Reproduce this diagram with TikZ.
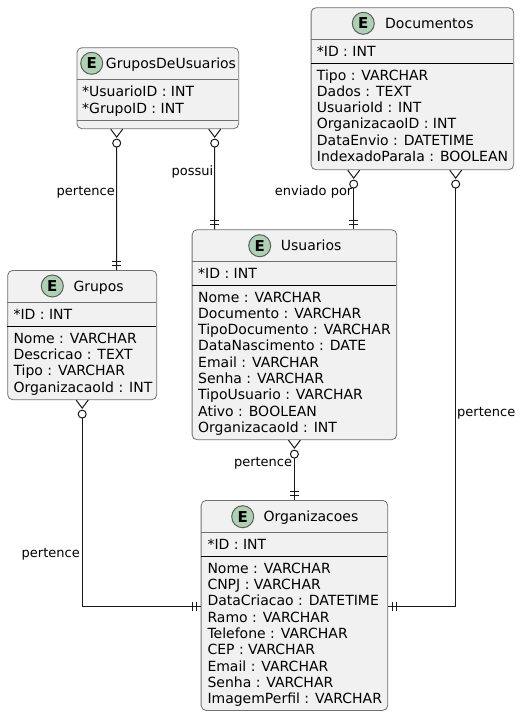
\documentclass[tikz,border=0pt]{standalone}
\usepackage{fontspec}
\setmainfont{DejaVu Sans}
\usetikzlibrary{decorations.markings}
\definecolor{boxfill}{HTML}{F1F1F1}
\definecolor{boxline}{HTML}{707070}
\definecolor{linkline}{HTML}{181818}
\definecolor{spotfill}{HTML}{ADD1B2}
\tikzset{
  entity/.style={rectangle, draw=boxline, line width=.8pt, fill=boxfill, rounded corners=5pt, anchor=north west, inner sep=0pt},
  spot/.style={circle, draw=linkline!70, line width=1pt, fill=spotfill, minimum size=22pt, inner sep=0pt, font=\fontsize{15}{15}\selectfont\bfseries},
  title/.style={anchor=base west, inner sep=0pt, font=\fontsize{14}{16}\selectfont},
  row/.style={anchor=base west, inner sep=0pt, font=\fontsize{14}{16}\selectfont},
  linklabel/.style={inner sep=0pt, font=\fontsize{13}{15}\selectfont},
  headline/.style={draw=boxline, line width=.8pt},
  idline/.style={draw=black, line width=1pt},
  link/.style={draw=linkline, line width=1pt, shorten <=18pt, postaction={decorate, decoration={markings,
    mark=at position 0pt with {\draw[shorten <=0pt, solid] (0,-6) -- (8,0) -- (0,6); \draw[shorten <=0pt, fill=white] (14,0) circle (4pt);},
    mark=at position -4.5pt with {\draw[shorten <=0pt] (0,-4.5) -- (0,4.5);},
    mark=at position -8.5pt with {\draw[shorten <=0pt] (0,-4.5) -- (0,4.5);}}}}
}
\begin{document}
\begin{tikzpicture}[x=1pt, y=-1pt]
    \useasboundingbox (0,0) rectangle (521,716);

    % GruposDeUsuarios
    \node at (76.5, 47.3) (gu) [entity, minimum width=161.8pt, minimum height=81pt] {};
    \node at (91.7, 63.3) (guspot) [spot] {E};
    \node at (105.7, 68.3) (gutitle) [title] {GruposDeUsuarios};
    \draw[headline] (76.5, 79.3) -- (238.3, 79.3);
    \node at (82, 96) (gu1) [row] {*UsuarioID : INT};
    \node at (82, 113) (gu2) [row] {*GrupoID : INT};
    \draw[headline] (76.5, 120.3) -- (238.3, 120.3);

    % Documentos
    \node at (310.7, 7.3) (doc) [entity, minimum width=202.6pt, minimum height=162pt] {};
    \node at (363.3, 23.3) (docspot) [spot] {E};
    \node at (385, 28.3) (doctitle) [title] {Documentos};
    \draw[headline] (310.7, 39.3) -- (513.3, 39.3);
    \node at (316.7, 56) (doc0) [row] {*ID : INT};
    \draw[idline] (310.7, 63.3) -- (513.3, 63.3);
    \node at (316.7, 80) (doc1) [row] {Tipo : VARCHAR};
    \node at (316.7, 96.3) (doc2) [row] {Dados : TEXT};
    \node at (316.7, 112.6) (doc3) [row] {UsuarioId : INT};
    \node at (316.7, 128.9) (doc4) [row] {OrganizacaoID : INT};
    \node at (316.7, 145.2) (doc5) [row] {DataEnvio : DATETIME};
    \node at (316.7, 161.5) (doc6) [row] {IndexadoParaIa : BOOLEAN};

    % Usuarios
    \node at (191.7, 229.3) (usr) [entity, minimum width=204.6pt, minimum height=210pt] {};
    \node at (259.7, 245.7) (usrspot) [spot] {E};
    \node at (280.7, 250.7) (usrtitle) [title] {Usuarios};
    \draw[headline] (191.7, 261) -- (396.3, 261);
    \node at (198, 278.3) (usr0) [row] {*ID : INT};
    \draw[idline] (191.7, 285) -- (396.3, 285);
    \node at (198, 302) (usr1) [row] {Nome : VARCHAR};
    \node at (198, 318.3) (usr2) [row] {Documento : VARCHAR};
    \node at (198, 334.6) (usr3) [row] {TipoDocumento : VARCHAR};
    \node at (198, 350.9) (usr4) [row] {DataNascimento : DATE};
    \node at (198, 367.2) (usr5) [row] {Email : VARCHAR};
    \node at (198, 383.5) (usr6) [row] {Senha : VARCHAR};
    \node at (198, 399.8) (usr7) [row] {TipoUsuario : VARCHAR};
    \node at (198, 416.1) (usr8) [row] {Ativo : BOOLEAN};
    \node at (198, 432.4) (usr9) [row] {OrganizacaoId : INT};

    % Grupos
    \node at (7.3, 270) (grp) [entity, minimum width=149pt, minimum height=129.3pt] {};
    \node at (52.3, 286) (grpspot) [spot] {E};
    \node at (73.3, 291) (grptitle) [title] {Grupos};
    \draw[headline] (7.3, 302.3) -- (156.3, 302.3);
    \node at (13.3, 319.3) (grp0) [row] {*ID : INT};
    \draw[idline] (7.3, 326.3) -- (156.3, 326.3);
    \node at (13.3, 343.3) (grp1) [row] {Nome : VARCHAR};
    \node at (13.3, 359.6) (grp2) [row] {Descricao : TEXT};
    \node at (13.3, 375.9) (grp3) [row] {Tipo : VARCHAR};
    \node at (13.3, 392.2) (grp4) [row] {OrganizacaoId : INT};

    % Organizacoes
    \node at (200.7, 500) (org) [entity, minimum width=186.6pt, minimum height=210pt] {};
    \node at (242.7, 516.7) (orgspot) [spot] {E};
    \node at (263.3, 521.7) (orgtitle) [title] {Organizacoes};
    \draw[headline] (200.7, 532.3) -- (387.3, 532.3);
    \node at (207.3, 549) (org0) [row] {*ID : INT};
    \draw[idline] (200.7, 556.3) -- (387.3, 556.3);
    \node at (207.3, 573.3) (org1) [row] {Nome : VARCHAR};
    \node at (207.3, 589.6) (org2) [row] {CNPJ : VARCHAR};
    \node at (207.3, 605.9) (org3) [row] {DataCriacao : DATETIME};
    \node at (207.3, 622.2) (org4) [row] {Ramo : VARCHAR};
    \node at (207.3, 638.5) (org5) [row] {Telefone : VARCHAR};
    \node at (207.3, 654.8) (org6) [row] {CEP : VARCHAR};
    \node at (207.3, 671.1) (org7) [row] {Email : VARCHAR};
    \node at (207.3, 687.4) (org8) [row] {Senha : VARCHAR};
    \node at (207.3, 703.7) (org9) [row] {ImagemPerfil : VARCHAR};

    \draw[link] ([xshift=-41.1pt]gu.south) -- ([xshift=34.5pt]grp.north);
    \draw[link] ([xshift=56.9pt]gu.south) -- ([xshift=-79.7pt]usr.north);
    \draw[link] ([xshift=-58.7pt]doc.south) -- ([xshift=59.3pt]usr.north);
    \draw[link] (usr.south) -- (org.north);
    \draw[link] (grp.south) |- ([yshift=-1.3pt]org.west);
    \draw[link] ([xshift=43.3pt]doc.south) |- ([yshift=-1.3pt]org.east);

    \node at (115, 195) (l1) [linklabel, anchor=base east] {pertence};
    \node at (213.5, 175) (l2) [linklabel, anchor=base east] {possui};
    \node at (352.5, 195) (l3) [linklabel, anchor=base east] {enviado por};
    \node at (292.3, 466) (l4) [linklabel, anchor=base east] {pertence};
    \node at (80, 557.7) (l5) [linklabel, anchor=base east] {pertence};
    \node at (457, 416.7) (l6) [linklabel, anchor=base west] {pertence};
\end{tikzpicture}
\end{document}
